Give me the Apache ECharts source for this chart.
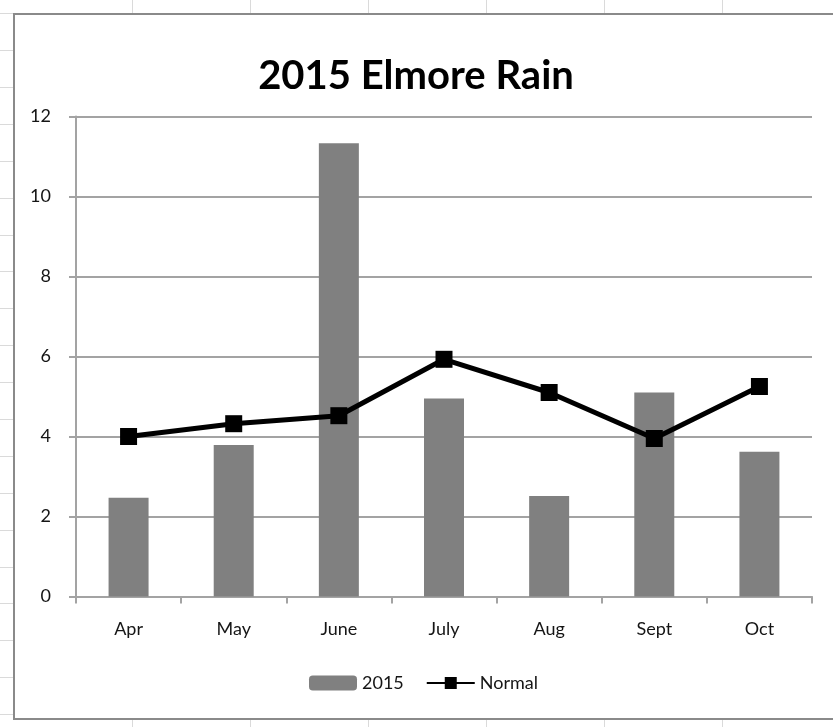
<!DOCTYPE html>
<html>
<head>
<meta charset="utf-8">
<title>2015 Elmore Rain</title>
<script src="https://cdn.jsdelivr.net/npm/echarts@6/dist/echarts.min.js"></script>
<style>
  html, body {
    margin: 0;
    padding: 0;
    width: 833px;
    height: 727px;
    overflow: hidden;
    background: #fff;
  }
  .sheet-v {
    position: absolute; top: 0; bottom: 0; width: 1px; background: #dadada;
  }
  .sheet-h {
    position: absolute; left: 0; width: 14px; height: 1px; background: #dadada;
  }
  .frame {
    position: absolute;
    left: 13px;
    top: 13px;
    width: 840px;
    height: 703px;
    border: 2px solid #8a8a8a;
    background: #fff;
  }
  #main {
    position: absolute;
    left: 0;
    top: 0;
    width: 833px;
    height: 727px;
  }
</style>
</head>
<body>
<div id="sheet"></div>
<div class="frame"></div>
<div id="main"></div>
<script>
  const months = ['Apr', 'May', 'June', 'July', 'Aug', 'Sept', 'Oct']
  const rain2015 = [2.47, 3.79, 11.33, 4.95, 2.51, 5.1, 3.62]
  const rainNormal = [4.0, 4.32, 4.52, 5.93, 5.1, 3.95, 5.25]
  const yTicks = [0, 2, 4, 6, 8, 10, 12]

  // spreadsheet grid lines, drawn behind the chart frame
  const sheet = document.getElementById('sheet')
  for (let x = 132; x < 833; x += 118) {
    const v = document.createElement('div')
    v.className = 'sheet-v'
    v.style.left = x + 'px'
    sheet.appendChild(v)
  }
  for (let y = 13.1; y < 727; y += 36.9) {
    const h = document.createElement('div')
    h.className = 'sheet-h'
    h.style.top = Math.round(y) + 'px'
    sheet.appendChild(h)
  }

  const textFont = 'Lato, "Open Sans", sans-serif'
  const gridColor = '#a3a3a3'
  const labelColor = '#151515'

  let chart = echarts.init(document.getElementById('main'))
  window.onresize = chart.resize
  chart.setOption({
    backgroundColor: 'transparent',
    animation: false,
    title: {
      text: '2015 Elmore Rain',
      left: 411,
      top: 51,
      textAlign: 'center',
      textStyle: {
        fontFamily: textFont,
        fontWeight: 'bold',
        fontSize: 40,
        color: '#000'
      }
    },
    legend: {
      left: 304,
      top: 669,
      itemWidth: 48,
      itemHeight: 15,
      itemGap: 22,
      textStyle: {
        fontFamily: textFont,
        fontSize: 18,
        color: labelColor
      },
      data: ['2015', 'Normal']
    },
    grid: {
      left: 76,
      right: 21,
      top: 116.5,
      bottom: 130.5
    },
    xAxis: {
      type: 'category',
      data: months,
      axisLine: {
        lineStyle: { color: gridColor, width: 2 }
      },
      axisTick: {
        show: true,
        length: 7,
        lineStyle: { color: gridColor, width: 2 }
      },
      axisLabel: {
        margin: 24,
        fontFamily: textFont,
        fontSize: 18,
        color: labelColor
      }
    },
    yAxis: {
      type: 'value',
      min: yTicks[0],
      max: yTicks[yTicks.length - 1],
      interval: 2,
      axisLine: {
        show: true,
        lineStyle: { color: gridColor, width: 2 }
      },
      axisTick: {
        show: true,
        length: 7,
        lineStyle: { color: gridColor, width: 2 }
      },
      axisLabel: {
        margin: 25,
        fontFamily: textFont,
        fontSize: 18,
        color: labelColor
      },
      splitLine: {
        show: true,
        lineStyle: { color: gridColor, width: 2 }
      }
    },
    series: [
      {
        name: '2015',
        type: 'bar',
        data: rain2015,
        barWidth: 40,
        itemStyle: { color: '#808080' }
      },
      {
        name: 'Normal',
        type: 'line',
        data: rainNormal,
        symbol: 'rect',
        symbolSize: 17,
        z: 5,
        lineStyle: { color: '#000', width: 5 },
        itemStyle: { color: '#000' }
      }
    ]
  })
</script>
</body>
</html>
